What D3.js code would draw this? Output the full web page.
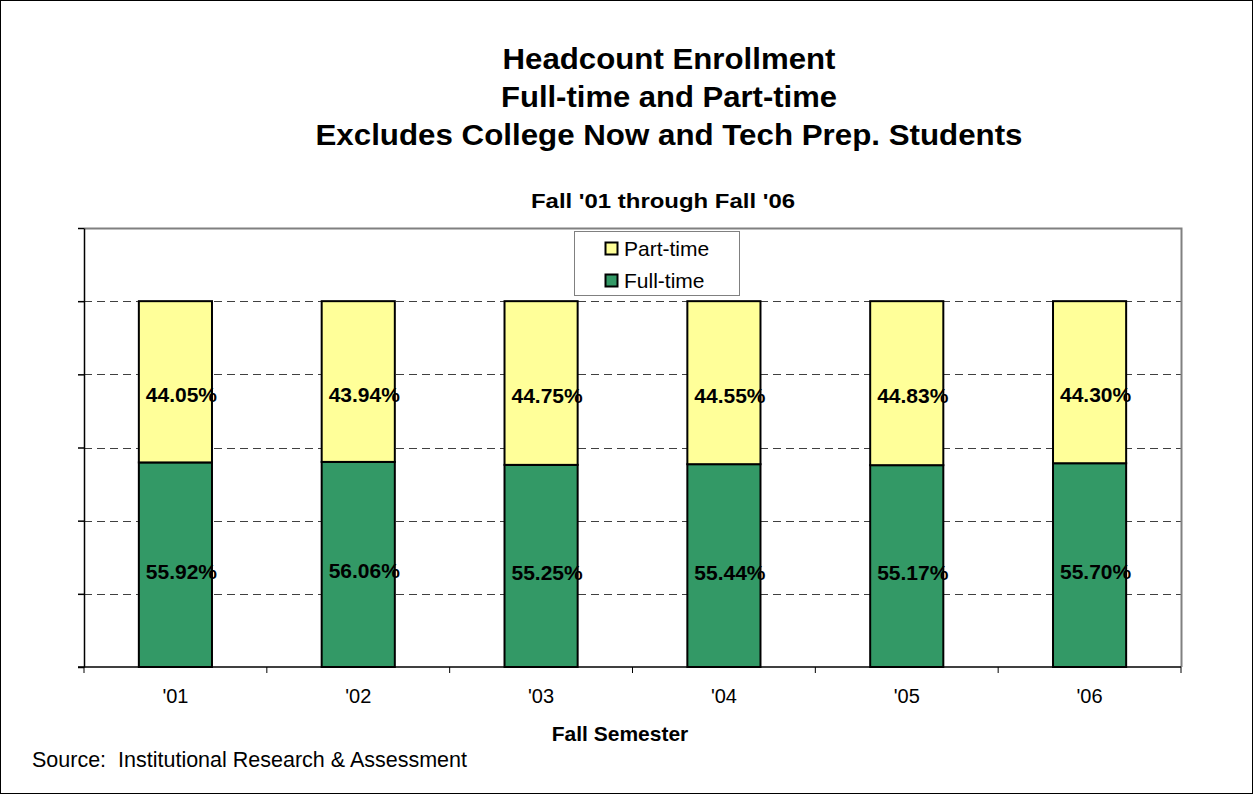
<!DOCTYPE html>
<html>
<head>
<meta charset="utf-8">
<script src="https://cdn.jsdelivr.net/npm/d3@7"></script>
<style>
body{margin:0;background:#fff;}
text{font-family:Arial,"Liberation Sans",sans-serif;white-space:pre;}
</style>
</head>
<body>
<div class="chart"></div>
<script>
// data
var years = ["'01","'02","'03","'04","'05","'06"];
var fullTime = [55.92, 56.06, 55.25, 55.44, 55.17, 55.70];
var partTime = [44.05, 43.94, 44.75, 44.55, 44.83, 44.30];
var yTicks = [0, 20, 40, 60, 80, 100, 120];
var titleLines = ["Headcount Enrollment", "Full-time and Part-time", "Excludes College Now and Tech Prep. Students"];
var titleWidths = [333, 336, 707];

var W = 1253, H = 794;
var plotL = 84, plotR = 1181, plotT = 228, plotB = 667;

var svg = d3.select("div.chart").append("svg")
    .attr("width", W).attr("height", H);

svg.append("rect")
    .attr("x", 0.5).attr("y", 0.5)
    .attr("width", W - 1).attr("height", H - 1)
    .attr("fill", "#fff").attr("stroke", "#000");

svg.selectAll("text.title")
    .data(titleLines)
    .enter()
    .append("text")
    .attr("class", "title")
    .attr("x", 669)
    .attr("y", function(d, i){ return 69 + i * 38; })
    .attr("text-anchor", "middle")
    .attr("font-size", 29).attr("font-weight", "bold")
    .attr("textLength", function(d, i){ return titleWidths[i]; })
    .attr("lengthAdjust", "spacingAndGlyphs")
    .text(function(d){ return d; });

svg.append("text")
    .attr("x", 663).attr("y", 208)
    .attr("text-anchor", "middle")
    .attr("font-size", 21).attr("font-weight", "bold")
    .attr("textLength", 264).attr("lengthAdjust", "spacingAndGlyphs")
    .text("Fall '01 through Fall '06");

var x = d3.scaleBand().domain(years).range([plotL, plotR]).paddingInner(0.6).paddingOuter(0.3);
var xb = d3.scaleBand().domain(years).range([plotL, plotR]);
var y = d3.scaleLinear().domain([0, 120]).range([plotB, plotT]);

// grid
svg.selectAll("line.grid")
    .data(yTicks.filter(function(d){ return d > 0 && d < 120; }))
    .enter()
    .append("line")
    .attr("class", "grid")
    .attr("x1", plotL).attr("x2", plotR)
    .attr("y1", function(d){ return Math.round(y(d)) + 0.5; })
    .attr("y2", function(d){ return Math.round(y(d)) + 0.5; })
    .attr("stroke", "#404040")
    .attr("stroke-dasharray", "8,5");

// plot border top and right
svg.append("path")
    .attr("d", "M" + plotL + "," + (plotT + 0.5) + "H" + (plotR + 0.5) + "V" + plotB)
    .attr("fill", "none").attr("stroke", "#808080").attr("stroke-width", 2);

// stacked bars
var stack = years.map(function(d, i){
    return {year: d, ft: fullTime[i], pt: partTime[i]};
});

var g = svg.selectAll("g.bar").data(stack).enter().append("g").attr("class", "bar");

g.append("rect")
    .attr("x", function(d){ return x(d.year); })
    .attr("width", x.bandwidth())
    .attr("y", function(d){ return y(d.ft); })
    .attr("height", function(d){ return y(0) - y(d.ft); })
    .attr("fill", "#339966").attr("stroke", "#000").attr("stroke-width", 2);

g.append("rect")
    .attr("x", function(d){ return x(d.year); })
    .attr("width", x.bandwidth())
    .attr("y", function(d){ return y(100); })
    .attr("height", function(d){ return y(d.ft) - y(100); })
    .attr("fill", "#FFFF99").attr("stroke", "#000").attr("stroke-width", 2);

g.append("text")
    .attr("x", function(d){ return x(d.year) + x.bandwidth() / 2 + 6; })
    .attr("y", function(d){ return (y(d.ft) + y(0)) / 2 + 14; })
    .attr("text-anchor", "middle")
    .attr("font-size", 21).attr("font-weight", "bold")
    .text(function(d){ return d.ft.toFixed(2) + "%"; });

g.append("text")
    .attr("x", function(d){ return x(d.year) + x.bandwidth() / 2 + 6; })
    .attr("y", function(d){ return (y(100) + y(d.ft)) / 2 + 20; })
    .attr("text-anchor", "middle")
    .attr("font-size", 21).attr("font-weight", "bold")
    .text(function(d){ return d.pt.toFixed(2) + "%"; });

// y axis (no labels)
var yAxis = svg.append("g")
    .attr("transform", "translate(" + plotL + ",0)")
    .call(d3.axisLeft(y).tickValues(yTicks).tickSize(6).tickSizeOuter(0).tickFormat(""));
yAxis.selectAll("path,line").attr("stroke", "#000").attr("stroke-width", 1.5);

// x axis with ticks at band edges
svg.append("line")
    .attr("x1", plotL - 6).attr("x2", plotR)
    .attr("y1", plotB).attr("y2", plotB)
    .attr("stroke", "#000").attr("stroke-width", 1.5);
svg.selectAll("line.xtick")
    .data(years.concat(["end"]))
    .enter()
    .append("line")
    .attr("class", "xtick")
    .attr("x1", function(d){ return d === "end" ? plotR : xb(d); })
    .attr("x2", function(d){ return d === "end" ? plotR : xb(d); })
    .attr("y1", plotB).attr("y2", plotB + 6)
    .attr("stroke", "#000").attr("stroke-width", 1);

svg.selectAll("text.xlab")
    .data(years)
    .enter()
    .append("text")
    .attr("class", "xlab")
    .attr("x", function(d){ return xb(d) + xb.bandwidth() / 2; })
    .attr("y", 703)
    .attr("text-anchor", "middle")
    .attr("font-size", 20)
    .text(function(d){ return d; });

svg.append("text")
    .attr("x", 620).attr("y", 741)
    .attr("text-anchor", "middle")
    .attr("font-size", 21).attr("font-weight", "bold")
    .text("Fall Semester");

svg.append("text")
    .attr("x", 32).attr("y", 767)
    .attr("font-size", 21.5)
    .text("Source:  Institutional Research & Assessment");

// legend
var legend = svg.append("g").attr("transform", "translate(574,231)");
legend.append("rect")
    .attr("x", 0.5).attr("y", 0.5).attr("width", 165).attr("height", 64)
    .attr("fill", "#fff").attr("stroke", "#808080");
var items = [{name: "Part-time", color: "#FFFF99"}, {name: "Full-time", color: "#339966"}];
var li = legend.selectAll("g.item").data(items).enter().append("g")
    .attr("transform", function(d, i){ return "translate(31," + (11 + i * 32) + ")"; });
li.append("rect")
    .attr("x", 0.5).attr("y", 0.5).attr("width", 12).attr("height", 12)
    .attr("fill", function(d){ return d.color; })
    .attr("stroke", "#000").attr("stroke-width", 2);
li.append("text")
    .attr("x", 19).attr("y", 14)
    .attr("font-size", 21)
    .text(function(d){ return d.name; });
</script>
</body>
</html>
